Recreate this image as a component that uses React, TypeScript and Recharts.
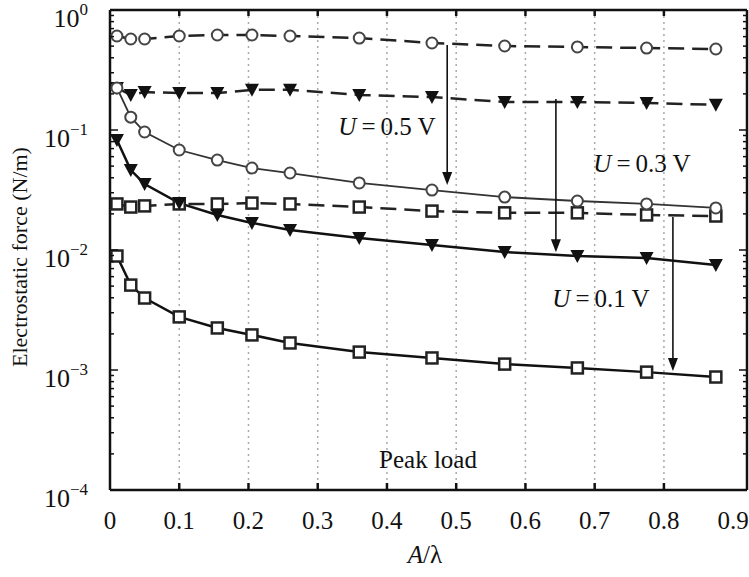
import React from "react";
import { LineChart, Line, XAxis, YAxis, CartesianGrid, ReferenceLine } from "recharts";

// A/λ positions of the markers
const xValues = [0.01, 0.03, 0.05, 0.1, 0.155, 0.205, 0.26, 0.36, 0.465, 0.57, 0.675, 0.775, 0.875];

// U = 0.5 V
const circleDashed = [0.607, 0.573, 0.573, 0.607, 0.619, 0.619, 0.607, 0.584, 0.531, 0.501, 0.492, 0.482, 0.473];
const circleSolid = [0.224, 0.128, 0.0962, 0.0681, 0.0562, 0.0482, 0.0438, 0.0362, 0.0316, 0.0276, 0.0256, 0.0242, 0.0224];
// U = 0.3 V
const triDashed = [0.224, 0.196, 0.207, 0.203, 0.203, 0.216, 0.216, 0.196, 0.188, 0.171, 0.171, 0.168, 0.162];
const triSolid = [0.0825, 0.0464, 0.0355, 0.0246, 0.0196, 0.0168, 0.0147, 0.0126, 0.011, 0.00962, 0.00891, 0.00858, 0.0075];
// U = 0.1 V
const squareDashed = [0.0242, 0.0228, 0.0233, 0.0242, 0.0242, 0.0246, 0.0242, 0.0228, 0.0211, 0.0204, 0.0204, 0.0196, 0.0192];
const squareSolid = [0.00891, 0.0051, 0.00398, 0.00277, 0.00224, 0.00196, 0.00168, 0.00141, 0.00126, 0.00112, 0.00104, 0.00096, 0.000874];

const xTicks = [0, 0.1, 0.2, 0.3, 0.4, 0.5, 0.6, 0.7, 0.8, 0.9];
const gridTicks = [0.1, 0.2, 0.3, 0.4, 0.5, 0.6, 0.7, 0.8];
const yDecades = [-4, -3, -2, -1, 0];
const minorSteps = [2, 3, 4, 5, 6, 7, 8, 9];

// arrows: x, from, to
const arrows = [
  { x: 0.487, from: 0.511, to: 0.0348 },
  { x: 0.644, from: 0.181, to: 0.0096 },
  { x: 0.813, from: 0.0188, to: 0.00098 },
];

const rows = xValues.map((x, i) => ({
  x,
  cd: circleDashed[i],
  cs: circleSolid[i],
  td: triDashed[i],
  ts: triSolid[i],
  sd: squareDashed[i],
  ss: squareSolid[i],
}));

const yTicks: number[] = [];
yDecades.forEach((e) => {
  yTicks.push(Math.pow(10, e));
  if (e < 0) minorSteps.forEach((m) => yTicks.push(m * Math.pow(10, e)));
});

const FONT = '"Liberation Serif", "Times New Roman", serif';
const INK = "#111";

const isMajor = (v: number) => Math.abs(Math.log10(v) - Math.round(Math.log10(v))) < 1e-6;

const LeftTick = (props: any) => {
  const { x, y, payload } = props;
  const v = payload.value;
  const major = isMajor(v);
  const e = Math.round(Math.log10(v));
  return (
    <g>
      <line x1={x} y1={y} x2={x + (major ? 8 : 4)} y2={y} stroke={INK} strokeWidth={1.5} />
      {major && (
        <text x={x - 22} y={y + 17} textAnchor="end" fontFamily={FONT} fontSize={26} fill={INK}>
          10
          <tspan dy={-12} fontSize={17}>{e < 0 ? "\u2212" + Math.abs(e) : String(e)}</tspan>
        </text>
      )}
    </g>
  );
};

const RightTick = (props: any) => {
  const { x, y, payload } = props;
  const major = isMajor(payload.value);
  return <line x1={x} y1={y} x2={x - (major ? 8 : 4)} y2={y} stroke={INK} strokeWidth={1.5} />;
};

const BottomTick = (props: any) => {
  const { x, y, payload } = props;
  const v = payload.value;
  return (
    <g>
      {gridTicks.includes(v) && <line x1={x} y1={y} x2={x} y2={y - 7} stroke={INK} strokeWidth={2.5} />}
      <text x={x} y={y + 39} textAnchor="middle" fontFamily={FONT} fontSize={25} fill={INK}>
        {String(v)}
      </text>
    </g>
  );
};

const TopTick = (props: any) => {
  const { x, y } = props;
  return <line x1={x} y1={y} x2={x} y2={y + 6} stroke={INK} strokeWidth={2.5} />;
};

const OpenCircle = (p: any) => (
  <circle key={p.index} cx={p.cx} cy={p.cy} r={5.5} fill="#fff" stroke="#444" strokeWidth={2} />
);
const DownTri = (p: any) => (
  <polygon
    key={p.index}
    points={`${p.cx - 7},${p.cy - 6} ${p.cx + 7},${p.cy - 6} ${p.cx},${p.cy + 7}`}
    fill={INK}
  />
);
const OpenSquare = (p: any) => (
  <rect key={p.index} x={p.cx - 5.5} y={p.cy - 5.5} width={11} height={11} fill="#fff" stroke="#222" strokeWidth={2.5} />
);

const Arrow = (props: any) => {
  const { x1, y1, x2, y2 } = props;
  return (
    <g>
      <line x1={x1} y1={y1} x2={x2} y2={y2 - 10} stroke={INK} strokeWidth={1.6} />
      <polygon points={`${x2 - 5},${y2 - 13} ${x2 + 5},${y2 - 13} ${x2},${y2}`} fill={INK} />
    </g>
  );
};

const ULabel = ({ x, y, v }: { x: number; y: number; v: string }) => (
  <text x={x} y={y} textAnchor="middle" fontFamily={FONT} fontSize={25} fill={INK}>
    <tspan fontStyle="italic">U</tspan>
    {"\u2009=\u2009" + v + " V"}
  </text>
);

export default function App() {
  return (
    <div style={{ position: "absolute", left: 0, top: 0, width: 749, height: 577, background: "#fff" }}>
      <LineChart width={749} height={577} data={rows} margin={{ top: 8, right: 0, bottom: 0, left: 10 }}>
        <CartesianGrid xAxisId="t" yAxisId="l" horizontal={false} stroke="#aaa" strokeDasharray="2 4" strokeWidth={1.5} />
        <XAxis
          xAxisId="b"
          dataKey="x"
          type="number"
          domain={[0, 0.92]}
          allowDataOverflow
          ticks={xTicks}
          interval={0}
          tickSize={0}
          tickMargin={0}
          tick={<BottomTick />}
          axisLine={{ stroke: INK, strokeWidth: 2.5 }}
          height={87}
        />
        <XAxis
          xAxisId="t"
          dataKey="x"
          orientation="top"
          type="number"
          domain={[0, 0.92]}
          allowDataOverflow
          ticks={gridTicks}
          interval={0}
          tickSize={0}
          tickMargin={0}
          tick={<TopTick />}
          axisLine={{ stroke: INK, strokeWidth: 2.5 }}
          height={2}
        />
        <YAxis
          yAxisId="l"
          type="number"
          scale="log"
          domain={[1e-4, 1]}
          allowDataOverflow
          ticks={yTicks}
          interval={0}
          tickSize={0}
          tickMargin={0}
          tick={<LeftTick />}
          axisLine={{ stroke: INK, strokeWidth: 2.5 }}
          width={100}
        />
        <YAxis
          yAxisId="r"
          orientation="right"
          type="number"
          scale="log"
          domain={[1e-4, 1]}
          allowDataOverflow
          ticks={yTicks}
          interval={0}
          tickSize={0}
          tickMargin={0}
          tick={<RightTick />}
          axisLine={{ stroke: INK, strokeWidth: 2.5 }}
          width={2}
        />

        <Line xAxisId="b" yAxisId="l" dataKey="cd" stroke="#222" strokeWidth={2.5} strokeDasharray="16 8" dot={OpenCircle} isAnimationActive={false} />
        <Line xAxisId="b" yAxisId="l" dataKey="td" stroke="#222" strokeWidth={2.5} strokeDasharray="16 8" dot={DownTri} isAnimationActive={false} />
        <Line xAxisId="b" yAxisId="l" dataKey="sd" stroke="#222" strokeWidth={2.5} strokeDasharray="16 8" dot={OpenSquare} isAnimationActive={false} />
        <Line xAxisId="b" yAxisId="l" dataKey="cs" stroke="#333" strokeWidth={1.8} dot={OpenCircle} isAnimationActive={false} />
        <Line xAxisId="b" yAxisId="l" dataKey="ts" stroke={INK} strokeWidth={2.5} dot={DownTri} isAnimationActive={false} />
        <Line xAxisId="b" yAxisId="l" dataKey="ss" stroke={INK} strokeWidth={2.5} dot={OpenSquare} isAnimationActive={false} />

        {arrows.map((a, i) => (
          <ReferenceLine
            key={i}
            xAxisId="b"
            yAxisId="l"
            segment={[
              { x: a.x, y: a.from },
              { x: a.x, y: a.to },
            ]}
            shape={<Arrow />}
          />
        ))}
      </LineChart>

      <svg width={749} height={577} style={{ position: "absolute", left: 0, top: 0, pointerEvents: "none" }}>
        <text
          x={27}
          y={257}
          transform="rotate(-90 27 257)"
          textAnchor="middle"
          fontFamily={FONT}
          fontSize={22}
          fill={INK}
        >
          Electrostatic force (N/m)
        </text>
        <text x={425} y={563} textAnchor="middle" fontFamily={FONT} fontSize={25} fill={INK}>
          <tspan fontStyle="italic">A</tspan>/λ
        </text>
        <ULabel x={387} y={135} v="0.5" />
        <ULabel x={642} y={172} v="0.3" />
        <ULabel x={601} y={307} v="0.1" />
        <text x={428} y={468} textAnchor="middle" fontFamily={FONT} fontSize={25} fill={INK}>
          Peak load
        </text>
      </svg>
    </div>
  );
}
